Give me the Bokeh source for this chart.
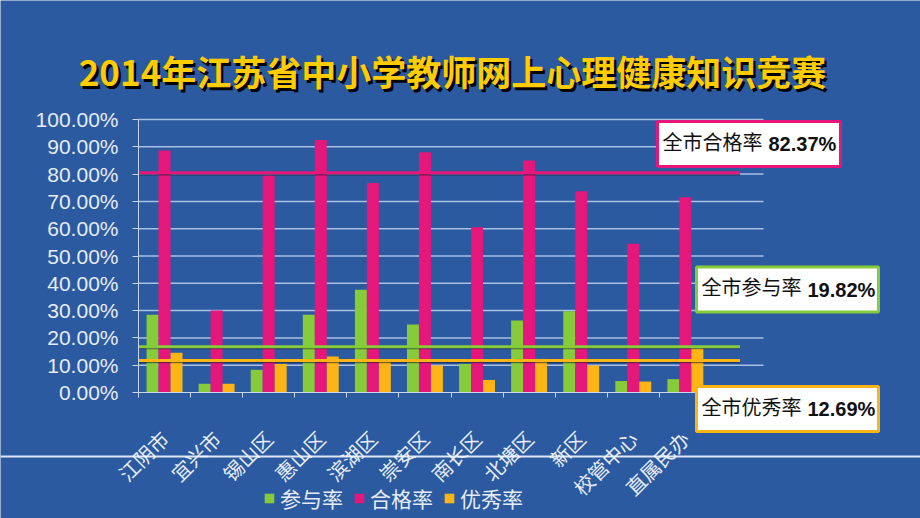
from bokeh.plotting import figure
from bokeh.models import (FixedTicker, Label, Legend, LegendItem, ColumnDataSource, Span)
from bokeh.embed import file_html
from bokeh.resources import INLINE
import math

# ---------------- data ----------------
categories = ["江阴市", "宜兴市", "锡山区", "惠山区", "滨湖区", "崇安区",
              "南长区", "北塘区", "新区", "校管中心", "直属民办"]
participation = [28.5, 3.2, 8.3, 28.5, 37.6, 24.9, 10.5, 26.4, 29.8, 4.2, 4.9]
pass_rate = [88.6, 30.0, 79.5, 92.5, 76.7, 88.0, 60.5, 85.0, 73.7, 54.5, 71.5]
excellent = [14.6, 3.2, 10.5, 13.2, 11.7, 9.9, 4.6, 12.3, 9.9, 4.0, 16.2]
series_names = ["参与率", "合格率", "优秀率"]
y_ticks = [0, 10, 20, 30, 40, 50, 60, 70, 80, 90, 100]
y_tick_labels = ["0.00%", "10.00%", "20.00%", "30.00%", "40.00%", "50.00%",
                 "60.00%", "70.00%", "80.00%", "90.00%", "100.00%"]
# city-wide reference lines (level as drawn) and their boxed labels
ref_levels = [80.5, 16.8, 11.7]
ref_names = ["全市合格率", "全市参与率", "全市优秀率"]
ref_values = ["82.37%", "19.82%", "12.69%"]
title_text = "2014年江苏省中小学教师网上心理健康知识竞赛"

GREEN = "#86cc3a"
PINK = "#e5177b"
ORANGE = "#fcb514"
BG = "#2b5aa0"
LIGHT = "#e6ecf6"
AXIS = "#c9d6ea"

W, H = 920, 518
# plot-area placement inside the canvas (pixels)
PL, PR, PT, PB = 138, 763, 119, 392
NSLOT = 12
kx = (PR - PL) / NSLOT
ky = (PB - PT) / 100.0
x_start, x_end = -PL / kx, NSLOT + (W - PR) / kx
y_start, y_end = -(H - PB) / ky, 100 + PT / ky

p = figure(width=W, height=H, x_range=(x_start, x_end), y_range=(y_start, y_end),
           output_backend="svg", toolbar_location=None,
           min_border_left=0, min_border_right=0, min_border_top=0, min_border_bottom=0)
p.background_fill_color = BG
p.border_fill_color = BG
p.outline_line_color = None
p.xgrid.visible = False
p.ygrid.visible = False

# decorative white line across the slide
p.add_layout(Span(location=H - 456, location_units="screen", dimension="width",
                  line_color="#f2f6fc", line_width=2, line_alpha=0.9))

# grid lines limited to the plot area
grid_y = y_ticks[1:]
p.segment(x0=[0] * len(grid_y), x1=[NSLOT] * len(grid_y), y0=grid_y, y1=grid_y,
          line_color="#a9c0e2", line_width=1.5)

centers = [i + 0.5 for i in range(len(categories))]
bw = 0.23
src = ColumnDataSource(dict(
    xg=[c - bw for c in centers], xp=centers, xo=[c + bw for c in centers],
    g=participation, pk=pass_rate, o=excellent))
r1 = p.vbar(x="xg", top="g", width=bw, source=src, fill_color=GREEN, line_color=None)
r2 = p.vbar(x="xp", top="pk", width=bw, source=src, fill_color=PINK, line_color=None)
r3 = p.vbar(x="xo", top="o", width=bw, source=src, fill_color=ORANGE, line_color=None)

# reference lines with dark shadow
line_colors = [PINK, GREEN, ORANGE]
for lvl, col in zip(ref_levels, line_colors):
    p.line([0, 11.55], [lvl - 0.45, lvl - 0.45], line_color="#1a1a33", line_alpha=0.55, line_width=3)
    p.line([0, 11.55], [lvl, lvl], line_color=col, line_width=3)

# axes fixed at the plot-area edges
yax = p.yaxis[0]
yax.fixed_location = 0
yax.bounds = (0, 100)
yax.ticker = FixedTicker(ticks=y_ticks)
yax.major_label_overrides = {t: l for t, l in zip(y_ticks, y_tick_labels)}
yax.major_label_text_font = "Liberation Sans"
yax.major_label_text_font_size = "21px"
yax.major_label_text_color = LIGHT
yax.axis_line_color = AXIS
yax.major_tick_line_color = AXIS
yax.major_tick_in = 0
yax.major_tick_out = 6
yax.minor_tick_line_color = None
yax.major_label_standoff = 14

xax = p.xaxis[0]
xax.fixed_location = 0
xax.bounds = (0, NSLOT)
xax.ticker = FixedTicker(ticks=centers, minor_ticks=list(range(0, 12)))
xax.major_label_overrides = {c: n for c, n in zip(centers, categories)}
xax.major_label_orientation = math.pi / 4
xax.major_label_text_font = "Noto Sans CJK SC"
xax.major_label_text_font_size = "20px"
xax.major_label_text_color = LIGHT
xax.major_tick_line_color = None
xax.minor_tick_line_color = AXIS
xax.minor_tick_in = 0
xax.minor_tick_out = 5
xax.axis_line_color = AXIS
xax.major_label_standoff = 36


def sx(px):
    return px


def sy(py):
    return H - py


# title with shadow
for dx, dy, col in [(2.5, 3, "#000000"), (0, 0, "#ffcc00")]:
    p.add_layout(Label(x=sx(452 + dx), y=sy(70 + dy), x_units="screen", y_units="screen",
                       text=title_text, text_align="center", text_baseline="middle",
                       text_font="Noto Sans CJK SC", text_font_style="bold",
                       text_font_size="35px", text_color=col))

# boxed labels
boxes = [  # (box left, box right, center y, text left, number left)
    (657, 846, 143.5, 668, 768),
    (696, 884, 289, 707, 807),
    (696, 884, 408.5, 707, 807),
]
for (bl, br, cy, tl, nl), name, val, col in zip(boxes, ref_names, ref_values, line_colors):
    p.add_layout(Label(x=sx(bl), y=sy(cy), x_units="screen", y_units="screen",
                       text=name, text_align="left", text_baseline="middle",
                       text_font="Noto Sans CJK SC", text_font_size="20px",
                       text_color="#111111", background_fill_color="white",
                       border_line_color=col, border_line_width=3,
                       padding=(5, br - tl - 100, 5, tl - bl)))
    p.add_layout(Label(x=sx(nl), y=sy(cy), x_units="screen", y_units="screen",
                       text=val, text_align="left", text_baseline="middle",
                       text_font="Liberation Sans", text_font_style="bold",
                       text_font_size="20px", text_color="#111111"))

legend = Legend(items=[LegendItem(label=series_names[0], renderers=[r1]),
                       LegendItem(label=series_names[1], renderers=[r2]),
                       LegendItem(label=series_names[2], renderers=[r3])],
                orientation="horizontal", location=(263, H - 513))
legend.label_text_font = "Noto Sans CJK SC"
legend.label_text_font_size = "21px"
legend.label_text_color = LIGHT
legend.background_fill_alpha = 0
legend.border_line_alpha = 0
legend.glyph_width = 12
legend.glyph_height = 12
legend.label_standoff = 5
legend.spacing = 10
legend.padding = 0
legend.margin = 0
p.add_layout(legend)

open("out.html", "w").write(file_html(p, INLINE))
